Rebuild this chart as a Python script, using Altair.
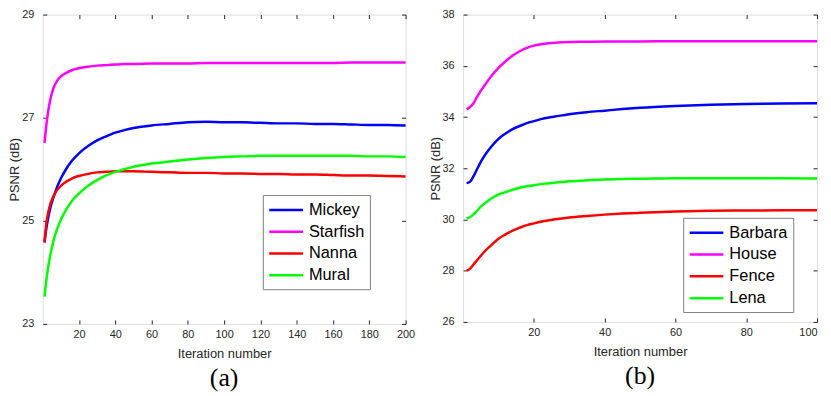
import altair as alt
import pandas as pd

# ---------------- data: panel (a) ----------------
iters_a = [1, 2, 3, 4, 6, 8, 10, 13, 16, 20, 25, 30, 35, 40, 45, 50, 60, 70, 80,
           90, 100, 110, 120, 130, 140, 150, 160, 170, 180, 190, 200]
mickey = [24.58, 24.85, 25.05, 25.22, 25.46, 25.66, 25.82, 26.01, 26.16, 26.31, 26.45,
          26.56, 26.64, 26.71, 26.76, 26.80, 26.85, 26.88, 26.91, 26.92, 26.91, 26.91,
          26.90, 26.89, 26.89, 26.88, 26.88, 26.87, 26.86, 26.86, 26.85]
starfish = [26.51, 26.85, 27.12, 27.32, 27.58, 27.72, 27.80, 27.87, 27.92, 27.96, 27.99,
            28.01, 28.02, 28.03, 28.04, 28.04, 28.05, 28.05, 28.05, 28.06, 28.06, 28.06,
            28.06, 28.06, 28.06, 28.06, 28.06, 28.07, 28.07, 28.07, 28.07]
nanna = [24.58, 24.95, 25.15, 25.30, 25.48, 25.60, 25.68, 25.76, 25.82, 25.87, 25.91,
         25.94, 25.95, 25.96, 25.96, 25.96, 25.95, 25.94, 25.93, 25.93, 25.92, 25.92,
         25.91, 25.91, 25.90, 25.90, 25.89, 25.88, 25.88, 25.87, 25.86]
mural = [23.53, 23.85, 24.10, 24.30, 24.62, 24.85, 25.02, 25.22, 25.38, 25.53, 25.68,
         25.79, 25.88, 25.95, 26.00, 26.05, 26.11, 26.15, 26.19, 26.22, 26.24, 26.25,
         26.26, 26.26, 26.26, 26.26, 26.26, 26.26, 26.25, 26.25, 26.24]
names_a = ["Mickey", "Starfish", "Nanna", "Mural"]

# ---------------- data: panel (b) ----------------
iters_b = [1, 2, 3, 4, 5, 6, 8, 10, 12, 14, 16, 18, 20, 23, 26, 30, 35, 40, 45, 50,
           60, 70, 80, 90, 100]
barbara = [31.42, 31.48, 31.70, 31.98, 32.25, 32.48, 32.85, 33.15, 33.36, 33.53, 33.65,
           33.76, 33.84, 33.95, 34.02, 34.11, 34.19, 34.25, 34.31, 34.36, 34.43, 34.48,
           34.51, 34.53, 34.54]
house = [34.30, 34.40, 34.55, 34.80, 35.02, 35.22, 35.60, 35.92, 36.18, 36.40, 36.57,
         36.70, 36.79, 36.86, 36.90, 36.93, 36.94, 36.95, 36.95, 36.95, 36.96, 36.96,
         36.96, 36.96, 36.96]
fence = [28.00, 28.08, 28.25, 28.42, 28.58, 28.74, 29.00, 29.25, 29.42, 29.57, 29.68,
         29.78, 29.85, 29.94, 30.01, 30.08, 30.14, 30.19, 30.23, 30.26, 30.31, 30.34,
         30.35, 30.36, 30.36]
lena = [30.03, 30.10, 30.20, 30.35, 30.50, 30.62, 30.82, 30.97, 31.07, 31.16, 31.24,
        31.30, 31.34, 31.40, 31.44, 31.49, 31.53, 31.56, 31.58, 31.59, 31.61, 31.61,
        31.61, 31.61, 31.60]
names_b = ["Barbara", "House", "Fence", "Lena"]

line_colors = ["#0000FF", "#FF00FF", "#FF0000", "#00FF00"]

x_ticks_a = [20, 40, 60, 80, 100, 120, 140, 160, 180, 200]
y_ticks_a = [23, 25, 27, 29]
x_ticks_b = [20, 40, 60, 80, 100]
y_ticks_b = [26, 28, 30, 32, 34, 36, 38]

FONT = "Liberation Sans"
AXC = "#262626"


def to_long(iters, names, series):
    rows = []
    for name, vals in zip(names, series):
        for it, v in zip(iters, vals):
            rows.append({"iter": it, "psnr": v, "series": name})
    return pd.DataFrame(rows)


def panel(df, names, xdom, xticks, ydom, yticks, w, h, lx, ly, tag, xflush):
    tick_style = dict(domain=False, grid=False, tickSize=4, offset=-4, tickColor=AXC)
    text_style = dict(labelFont=FONT, labelFontSize=11, labelColor=AXC,
                      titleFont=FONT, titleFontSize=13, titleFontWeight="normal",
                      titleColor=AXC)
    color = alt.Color(
        "series:N",
        sort=names,
        scale=alt.Scale(domain=names, range=line_colors),
        legend=alt.Legend(
            title=None, orient="none", legendX=lx, legendY=ly,
            symbolType="M-2,0H2", symbolSize=289, symbolStrokeWidth=2.5,
            symbolOffset=8.5, labelOffset=13,
            labelFont=FONT, labelFontSize=16.5, labelColor="black",
            rowPadding=3, padding=5, strokeColor="#808080", fillColor="white",
        ),
    )
    lines = alt.Chart(df).mark_line(strokeWidth=2.5, interpolate="monotone").encode(
        x=alt.X("iter:Q", scale=alt.Scale(domain=xdom, nice=False, zero=False),
                axis=alt.Axis(values=xticks, title="Iteration number", orient="bottom",
                              labelPadding=5, titlePadding=8, labelFlush=xflush,
                              **tick_style, **text_style)),
        y=alt.Y("psnr:Q", scale=alt.Scale(domain=ydom, nice=False, zero=False),
                axis=alt.Axis(values=yticks, title="PSNR (dB)", orient="left",
                              labelPadding=9, titlePadding=0, labelFlush=False,
                              **tick_style, **text_style)),
        color=color,
    )
    frame = alt.Chart(df).mark_point(opacity=0).encode(
        x=alt.X("iter:Q", axis=alt.Axis(values=xticks, orient="top", labels=False,
                                        title=None, **tick_style)),
        y=alt.Y("psnr:Q", axis=alt.Axis(values=yticks, orient="right", labels=False,
                                        title=None, **tick_style)),
    )
    return alt.layer(lines, frame).resolve_axis(x="independent", y="independent").properties(
        width=w, height=h,
        title=alt.TitleParams(tag, orient="bottom", font="Liberation Serif", fontSize=26,
                              fontWeight="normal", color="black", offset=5),
    )


df_a = to_long(iters_a, names_a, [mickey, starfish, nanna, mural])
df_b = to_long(iters_b, names_b, [barbara, house, fence, lena])

left = panel(df_a, names_a, [0, 200], x_ticks_a, [23, 29], y_ticks_a, 366, 312, 222, 182,
             "(a)", False)
right = panel(df_b, names_b, [0, 100], x_ticks_b, [26, 38], y_ticks_b, 357, 310, 222, 205,
              "(b)", True)

chart = alt.hconcat(left, right, spacing=13).resolve_scale(color="independent").properties(
    padding={"left": 0, "top": -2, "right": 0, "bottom": -2}
).configure_view(stroke="#555555", strokeWidth=1).configure(background="white")

chart.save("out.html", embed_options={"renderer": "svg", "actions": False})
